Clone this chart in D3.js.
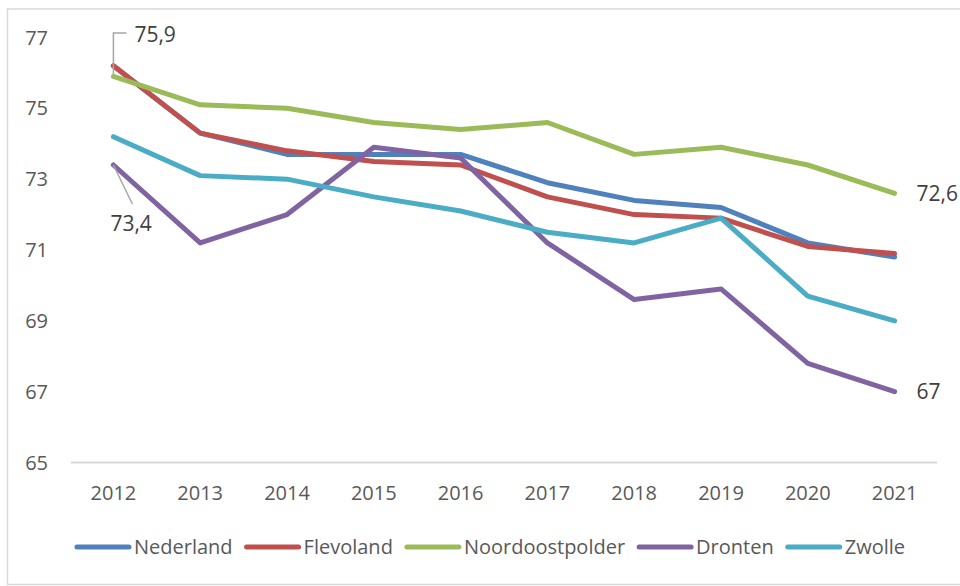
<!DOCTYPE html>
<html lang="en">
<head>
  <meta charset="UTF-8" />
  <title>Levensverwachting</title>
  <style>
    body {
      margin: 0;
      background-color: #fff;
      font-family: "Open Sans", sans-serif;
    }

    svg {
      display: block;
    }

    .frame {
      fill: #fff;
      stroke: #d9d9d9;
      stroke-width: 1.5;
    }

    .tick-label {
      fill: #595959;
      font-size: 20px;
    }

    .data-label {
      fill: #404040;
      font-size: 21px;
    }

    .leader {
      fill: none;
      stroke: #a6a6a6;
      stroke-width: 1.5;
    }

    .series {
      fill: none;
      stroke-width: 5;
      stroke-linejoin: round;
      stroke-linecap: round;
    }
  </style>
</head>

<body>
  <svg width="960" height="586"></svg>

  <script src="https://d3js.org/d3.v7.min.js"></script>
  <script>
    const years = ["2012", "2013", "2014", "2015", "2016", "2017", "2018", "2019", "2020", "2021"];
    const yTicks = [65, 67, 69, 71, 73, 75, 77];

    const nederland       = [76.2, 74.3, 73.7, 73.7, 73.7, 72.9, 72.4, 72.2, 71.2, 70.8];
    const flevoland       = [76.2, 74.3, 73.8, 73.5, 73.4, 72.5, 72.0, 71.9, 71.1, 70.9];
    const noordoostpolder = [75.9, 75.1, 75.0, 74.6, 74.4, 74.6, 73.7, 73.9, 73.4, 72.6];
    const dronten         = [73.4, 71.2, 72.0, 73.9, 73.6, 71.2, 69.6, 69.9, 67.8, 67.0];
    const zwolle          = [74.2, 73.1, 73.0, 72.5, 72.1, 71.5, 71.2, 71.9, 69.7, 69.0];

    const series = [
      { name: "Nederland", values: nederland, color: "#4f81bd" },
      { name: "Flevoland", values: flevoland, color: "#c0504d" },
      { name: "Noordoostpolder", values: noordoostpolder, color: "#9bbb59" },
      { name: "Dronten", values: dronten, color: "#8064a2" },
      { name: "Zwolle", values: zwolle, color: "#4bacc6" }
    ];

    const svg = d3.select("svg");

    // chart frame (right edge runs off the picture)
    svg.append("rect")
      .attr("class", "frame")
      .attr("x", 7.5)
      .attr("y", 9)
      .attr("width", 960)
      .attr("height", 575.5);

    const x = d3.scalePoint()
      .domain(years)
      .range([70, 938])
      .padding(0.5);

    const y = d3.scaleLinear()
      .domain([65, 77])
      .range([462.5, 37.5]);

    // horizontal axis line at the bottom
    svg.append("line")
      .attr("x1", 71)
      .attr("x2", 937)
      .attr("y1", y(65))
      .attr("y2", y(65))
      .attr("stroke", "#d9d9d9")
      .attr("stroke-width", 1.8);

    // y tick labels
    svg.selectAll(".y-label")
      .data(yTicks)
      .enter()
      .append("text")
      .attr("class", "tick-label")
      .attr("x", 48)
      .attr("y", d => y(d))
      .attr("dy", "0.35em")
      .attr("text-anchor", "end")
      .text(d => d);

    // x tick labels
    svg.selectAll(".x-label")
      .data(years)
      .enter()
      .append("text")
      .attr("class", "tick-label")
      .attr("x", d => x(d))
      .attr("y", 493)
      .attr("dy", "0.35em")
      .attr("text-anchor", "middle")
      .text(d => d);

    const line = d3.line()
      .x((d, i) => x(years[i]))
      .y(d => y(d));

    series.forEach(s => {
      svg.append("path")
        .attr("class", "series")
        .attr("stroke", s.color)
        .attr("d", line(s.values));
    });

    // data labels
    const last = years.length - 1;
    const x0 = x(years[0]);
    const xn = x(years[last]);

    // 75,9 with elbow leader
    const yN0 = y(noordoostpolder[0]);
    svg.append("polyline")
      .attr("class", "leader")
      .attr("points", `${x0},${yN0} ${x0},33 ${x0 + 13},33`);
    svg.append("text")
      .attr("class", "data-label")
      .attr("x", x0 + 21)
      .attr("y", 35)
      .attr("dy", "0.35em")
      .text("75,9");

    // 73,4 with straight leader
    const yD0 = y(dronten[0]);
    svg.append("line")
      .attr("class", "leader")
      .attr("x1", x0)
      .attr("y1", yD0)
      .attr("x2", x0 + 19)
      .attr("y2", yD0 + 39);
    svg.append("text")
      .attr("class", "data-label")
      .attr("x", x0 - 3)
      .attr("y", 224)
      .attr("dy", "0.35em")
      .text("73,4");

    svg.append("text")
      .attr("class", "data-label")
      .attr("x", xn + 22)
      .attr("y", y(noordoostpolder[last]))
      .attr("dy", "0.35em")
      .text("72,6");

    svg.append("text")
      .attr("class", "data-label")
      .attr("x", xn + 22)
      .attr("y", y(dronten[last]))
      .attr("dy", "0.35em")
      .text("67");

    // legend
    const legend = svg.append("g");
    let lx = 0;
    series.forEach(s => {
      const g = legend.append("g").attr("transform", `translate(${lx},0)`);
      g.append("line")
        .attr("x1", 2)
        .attr("x2", 54)
        .attr("y1", 0)
        .attr("y2", 0)
        .attr("stroke", s.color)
        .attr("stroke-width", 5)
        .attr("stroke-linecap", "round");
      const t = g.append("text")
        .attr("class", "tick-label")
        .attr("x", 59)
        .attr("y", 0)
        .attr("dy", "0.35em")
        .text(s.name);
      lx += 59 + t.node().getComputedTextLength() + 12;
    });
    const legendWidth = lx - 12;
    legend.attr("transform", `translate(${490 - legendWidth / 2},547)`);
  </script>

</body>
</html>
